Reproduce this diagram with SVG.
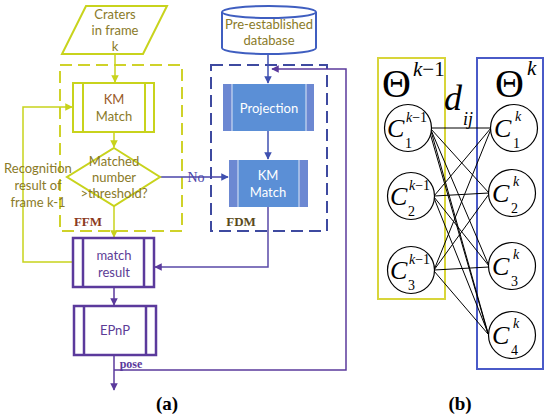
<svg xmlns="http://www.w3.org/2000/svg" width="550" height="419" viewBox="0 0 550 419">
<defs>
<style>
.t{font-family:Lato,"Open Sans",sans-serif;font-size:13px;text-anchor:middle}
.ol{fill:#8a7a28}
.pu{fill:#5c3c96}
.wh{fill:#ffffff}
.bs{font-family:"Liberation Serif",serif;font-weight:bold}
.yl{stroke:#c8d31c;fill:none;stroke-width:2}
.pl{stroke:#5b3a9c;fill:none;stroke-width:2.5}
.ser{font-family:"Liberation Serif",serif}
.it{font-family:"Liberation Serif",serif;font-style:italic}
</style>
<marker id="ay" viewBox="0 0 10 10" refX="9" refY="5" markerWidth="5" markerHeight="5" orient="auto"><path d="M0,0L10,5L0,10z" fill="#c8d31c"/></marker>
<marker id="ab" viewBox="0 0 10 10" refX="9" refY="5" markerWidth="5" markerHeight="5" orient="auto"><path d="M0,0L10,5L0,10z" fill="#3f50b0"/></marker>
<marker id="ap" viewBox="0 0 10 10" refX="9" refY="5" markerWidth="5" markerHeight="5" orient="auto"><path d="M0,0L10,5L0,10z" fill="#5b3a9c"/></marker>
</defs>
<rect width="550" height="419" fill="#ffffff"/>

<g id="ffm-group">
<rect x="60" y="65" width="122" height="166" fill="none" stroke="#cfd22a" stroke-width="2" stroke-dasharray="12 6"/>
<text x="88" y="226" class="bs" font-size="13" fill="#8b3a1e" text-anchor="middle">FFM</text>
</g>
<g id="fdm-group">
<rect x="211" y="65" width="116" height="166" fill="none" stroke="#3e4aa0" stroke-width="2" stroke-dasharray="12 6"/>
<text x="241" y="226" class="bs" font-size="13" fill="#5a4a1a" text-anchor="middle">FDM</text>
</g>

<g id="connectors">
<line x1="115" y1="54" x2="115" y2="82" stroke="#c8d31c" stroke-width="1.5" marker-end="url(#ay)"/>
<line x1="114" y1="132" x2="114" y2="147" stroke="#c8d31c" stroke-width="1.5" marker-end="url(#ay)"/>
<line x1="114" y1="206" x2="114" y2="237" stroke="#c8d31c" stroke-width="1.5" marker-end="url(#ay)"/>
<polyline points="73,262 23,262 23,107 72,107" fill="none" stroke="#c8d31c" stroke-width="1.5" marker-end="url(#ay)"/>
<line x1="268" y1="53" x2="268" y2="83" stroke="#3f50b0" stroke-width="1.5" marker-end="url(#ab)"/>
<line x1="268" y1="131" x2="268" y2="159" stroke="#3f50b0" stroke-width="1.5" marker-end="url(#ab)"/>
<line x1="160" y1="177" x2="228" y2="177" stroke="#4a45a8" stroke-width="1.5" marker-end="url(#ab)"/>
<polyline points="268,207 268,267 155,267" fill="none" stroke="#5a4aa8" stroke-width="1.5" marker-end="url(#ap)"/>
<line x1="114" y1="287" x2="114" y2="305" stroke="#5b3a9c" stroke-width="1.5" marker-end="url(#ap)"/>
<line x1="114" y1="355" x2="114" y2="390" stroke="#5b3a9c" stroke-width="1.5" marker-end="url(#ap)"/>
<polyline points="114,370 346,370 346,69 272,69" fill="none" stroke="#5b3a9c" stroke-width="1.5" marker-end="url(#ap)"/>
<text x="196" y="182" class="ser" font-size="14" fill="#4a45a8" text-anchor="middle">No</text>
<text x="131" y="368" class="bs" font-size="12" fill="#5b3a9c" text-anchor="middle">pose</text>
<text x="38" y="173" class="t ol">Recognition</text>
<text x="38" y="190" class="t ol">result of</text>
<text x="38" y="207" class="t ol">frame k-1</text>
</g>

<g id="craters">
<polygon points="86,6 167,6 143,54 62,54" fill="#ffffff" stroke="#c8d31c" stroke-width="2"/>
<text x="115" y="19" class="t ol">Craters</text>
<text x="115" y="35" class="t ol">in frame</text>
<text x="115" y="51" class="t ol">k</text>
</g>

<g id="km-match-ffm">
<rect x="73" y="83" width="81" height="49" class="yl"/>
<line x1="83" y1="83" x2="83" y2="132" class="yl"/>
<line x1="145" y1="83" x2="145" y2="132" class="yl"/>
<text x="114" y="104" class="t" fill="#9a5a28">KM</text>
<text x="114" y="121" class="t ol">Match</text>
</g>

<g id="decision">
<polygon points="114,148 160,177 114,206 67,177" fill="#ffffff" stroke="#c8d31c" stroke-width="2"/>
<text x="114" y="166" class="t ol">Matched</text>
<text x="114" y="182" class="t ol">number</text>
<text x="114" y="198" class="t ol">&gt;threshold?</text>
</g>

<g id="database">
<path d="M222,12 L222,48 A47,6 0 0 0 316,48 L316,12" fill="#ffffff" stroke="#3f5ec0" stroke-width="2"/>
<ellipse cx="269" cy="12" rx="47" ry="6" fill="#ffffff" stroke="#3f5ec0" stroke-width="2"/>
<text x="269" y="29" class="t ol">Pre-established</text>
<text x="269" y="45" class="t ol">database</text>
</g>

<g id="projection">
<rect x="223" y="84" width="91" height="47" fill="#5b8fd6"/>
<rect x="223" y="84" width="9" height="47" fill="#6c88d2"/>
<rect x="306" y="84" width="8" height="47" fill="#6c88d2"/>
<line x1="232" y1="84" x2="232" y2="131" stroke="#dfe8f8" stroke-width="1"/>
<line x1="306" y1="84" x2="306" y2="131" stroke="#dfe8f8" stroke-width="1"/>
<text x="269" y="113" class="t wh">Projection</text>
</g>

<g id="km-match-fdm">
<rect x="229" y="160" width="79" height="47" fill="#5b8fd6"/>
<rect x="229" y="160" width="9" height="47" fill="#6c88d2"/>
<rect x="299" y="160" width="9" height="47" fill="#6c88d2"/>
<line x1="238" y1="160" x2="238" y2="207" stroke="#dfe8f8" stroke-width="1"/>
<line x1="299" y1="160" x2="299" y2="207" stroke="#dfe8f8" stroke-width="1"/>
<text x="268" y="180" class="t wh">KM</text>
<text x="268" y="197" class="t wh">Match</text>
</g>

<g id="match-result">
<rect x="73" y="238" width="81" height="49" class="pl"/>
<line x1="83" y1="238" x2="83" y2="287" class="pl"/>
<line x1="144" y1="238" x2="144" y2="287" class="pl"/>
<text x="114" y="260" class="t pu">match</text>
<text x="114" y="277" class="t pu">result</text>
</g>

<g id="epnp">
<rect x="74" y="306" width="82" height="49" class="pl"/>
<line x1="84" y1="306" x2="84" y2="355" class="pl"/>
<line x1="146" y1="306" x2="146" y2="355" class="pl"/>
<text x="115" y="335" class="t pu">EPnP</text>
</g>

<text x="167" y="410" class="bs" font-size="19" fill="#000000" text-anchor="middle">(a)</text>

<g id="part-b">
<rect x="378" y="58" width="67" height="241" fill="none" stroke="#d8d53a" stroke-width="2"/>
<rect x="477" y="58" width="66" height="311" fill="none" stroke="#4a5ac8" stroke-width="2"/>
<text x="382" y="97" class="ser" font-size="40" fill="#000">Θ</text>
<text x="413" y="76" class="it" font-size="21" fill="#000">k<tspan font-style="normal">−1</tspan></text>
<text x="495" y="97" class="ser" font-size="40" fill="#000">Θ</text>
<text x="527" y="75" class="it" font-size="21" fill="#000">k</text>
<text x="444" y="110" class="it" font-size="36" fill="#000">d</text>
<text x="463" y="125" class="it" font-size="18" fill="#000">ij</text>
</g>

<g id="edges" stroke="#000" stroke-width="1">
<line x1="431" y1="128" x2="490" y2="128"/>
<line x1="431" y1="129" x2="489" y2="193"/>
<line x1="431" y1="130" x2="489" y2="266"/>
<line x1="431" y1="131" x2="488" y2="333"/>
<line x1="430" y1="133" x2="488" y2="334"/>
<line x1="434" y1="196" x2="491" y2="128"/>
<line x1="434" y1="196" x2="489" y2="193"/>
<line x1="434" y1="197" x2="489" y2="266"/>
<line x1="434" y1="198" x2="488" y2="333"/>
<line x1="434" y1="270" x2="491" y2="129"/>
<line x1="434" y1="270" x2="489" y2="194"/>
<line x1="434" y1="270" x2="489" y2="267"/>
<line x1="434" y1="271" x2="488" y2="334"/>
</g>

<g id="c1-prev">
<circle cx="408" cy="128" r="23.5" fill="#fff" stroke="#000" stroke-width="1.2"/>
<text x="387" y="137" class="it" font-size="26">C</text>
<text x="406" y="122" class="it" font-size="14">k<tspan font-style="normal">−1</tspan></text>
<text x="405" y="148" class="ser" font-size="14">1</text>
</g>
<g id="c2-prev">
<circle cx="411" cy="196" r="23.5" fill="#fff" stroke="#000" stroke-width="1.2"/>
<text x="390" y="205" class="it" font-size="26">C</text>
<text x="409" y="190" class="it" font-size="14">k<tspan font-style="normal">−1</tspan></text>
<text x="408" y="216" class="ser" font-size="14">2</text>
</g>
<g id="c3-prev">
<circle cx="411" cy="270" r="23.5" fill="#fff" stroke="#000" stroke-width="1.2"/>
<text x="390" y="279" class="it" font-size="26">C</text>
<text x="409" y="264" class="it" font-size="14">k<tspan font-style="normal">−1</tspan></text>
<text x="408" y="290" class="ser" font-size="14">3</text>
</g>
<g id="c1-cur">
<circle cx="514" cy="128" r="23.5" fill="#fff" stroke="#000" stroke-width="1.2"/>
<text x="494" y="137" class="it" font-size="26">C</text>
<text x="515" y="121" class="it" font-size="14">k</text>
<text x="513" y="148" class="ser" font-size="14">1</text>
</g>
<g id="c2-cur">
<circle cx="512" cy="193" r="23.5" fill="#fff" stroke="#000" stroke-width="1.2"/>
<text x="492" y="202" class="it" font-size="26">C</text>
<text x="513" y="186" class="it" font-size="14">k</text>
<text x="511" y="213" class="ser" font-size="14">2</text>
</g>
<g id="c3-cur">
<circle cx="512" cy="266" r="23.5" fill="#fff" stroke="#000" stroke-width="1.2"/>
<text x="492" y="275" class="it" font-size="26">C</text>
<text x="513" y="259" class="it" font-size="14">k</text>
<text x="511" y="286" class="ser" font-size="14">3</text>
</g>
<g id="c4-cur">
<circle cx="512" cy="335" r="23.5" fill="#fff" stroke="#000" stroke-width="1.2"/>
<text x="492" y="344" class="it" font-size="26">C</text>
<text x="513" y="328" class="it" font-size="14">k</text>
<text x="511" y="355" class="ser" font-size="14">4</text>
</g>

<text x="460" y="410" class="bs" font-size="19" fill="#000000" text-anchor="middle">(b)</text>
</svg>
